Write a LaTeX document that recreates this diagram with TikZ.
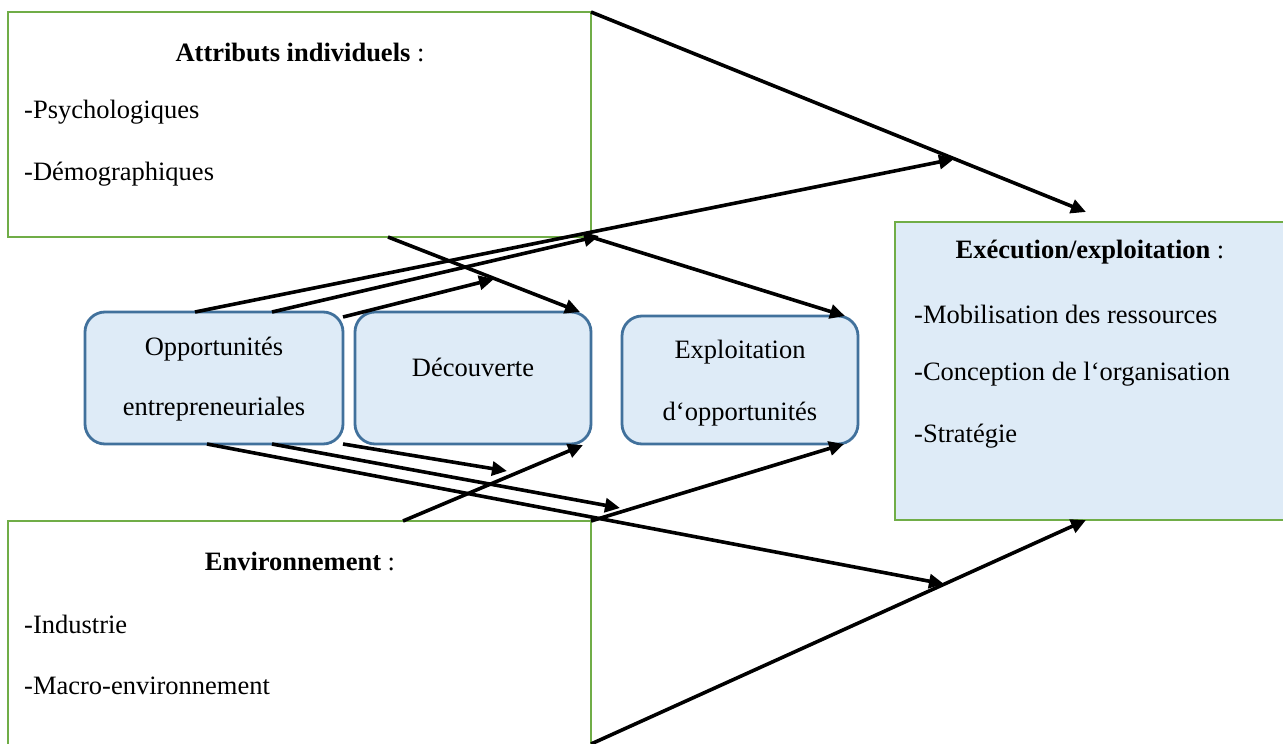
\documentclass[tikz,border=0pt]{standalone}
\usepackage{fontspec}
\setmainfont{Liberation Serif}
\usetikzlibrary{arrows.meta}
\definecolor{boxgreen}{HTML}{70AD47}
\definecolor{boxblue}{HTML}{41719C}
\definecolor{boxfill}{HTML}{DEEBF7}
\begin{document}
\begin{tikzpicture}[x=1pt,y=-1pt,
  font=\fontsize{26.5}{30}\selectfont,
  greenbox/.style={draw=boxgreen, line width=2.8pt, inner sep=0pt, outer sep=0pt},
  roundbox/.style={draw=boxblue, fill=boxfill, line width=2.8pt, rounded corners=20pt, inner sep=0pt, outer sep=0pt},
  conn/.style={line width=3.6pt, -{Triangle[length=15pt,width=14pt]}},
  lbl/.style={inner sep=0pt, anchor=west},
  ttl/.style={inner sep=0pt}]
\useasboundingbox (0,0) rectangle (1283,744);
\fill[white] (0,0) rectangle (1283,744);

% boxes
\node[greenbox, minimum width=583pt, minimum height=225pt] (attr) at (299.5,124.5) {};
\node[greenbox, minimum width=583pt, minimum height=225pt] (env) at (299.5,633.5) {};
\node[greenbox, fill=boxfill, minimum width=395pt, minimum height=298pt] (exec) at (1092.5,371) {};
\node[roundbox, minimum width=258pt, minimum height=132pt] (opp) at (214,378) {};
\node[roundbox, minimum width=236pt, minimum height=132pt] (dec) at (473,378) {};
\node[roundbox, minimum width=236pt, minimum height=128pt] (expl) at (740,380) {};

% texts
\node[ttl] (attrT) at (300,52) {\textbf{Attributs individuels} :};
\node[lbl] (attr1) at (24,112) {-Psychologiques};
\node[lbl] (attr2) at (24,174) {-Démographiques};

\node[ttl] (envT) at (300,561) {\textbf{Environnement} :};
\node[lbl] (env1) at (24,624) {-Industrie};
\node[lbl] (env2) at (24,686) {-Macro-environnement};

\node[ttl] (execT) at (1090,252) {\textbf{Exécution/exploitation} :};
\node[lbl] (exec1) at (914,314) {-Mobilisation des ressources};
\node[lbl] (exec2) at (914,374) {-Conception de l‘organisation};
\node[lbl] (exec3) at (914,436) {-Stratégie};

\node[ttl] (oppA) at (214,349) {Opportunités};
\node[ttl] (oppB) at (214,409) {entrepreneuriales};
\node[ttl] (decT) at (473,367) {Découverte};
\node[ttl] (explA) at (740,352) {Exploitation};
\node[ttl] (explB) at (740,414) {d‘opportunités};

% connection points
\coordinate (o1) at (195,312);
\coordinate (o2) at (272,312);
\coordinate (o3) at (343,317);
\coordinate (b1) at (207,444);
\coordinate (b2) at (272,444);
\coordinate (b3) at (343,444);
\coordinate (as) at (388,237);
\coordinate (et) at (403,521);
\coordinate (eb) at (591,744);
\coordinate (t1) at (1086,212);
\coordinate (t2) at (954,159);
\coordinate (t3) at (599,236);
\coordinate (t4) at (494,279);
\coordinate (t5) at (580,312);
\coordinate (t6) at (507,471);
\coordinate (t7) at (583,445);
\coordinate (t8) at (620,508);
\coordinate (t9) at (944,584);
\coordinate (t10) at (844,444);
\coordinate (t11) at (845,316);
\coordinate (t12) at (1086,520);

% connectors
\draw[conn] (attr.north east) -- (t1);
\draw[conn] (o1) -- (t2);
\draw[conn] (o2) -- (t3);
\draw[conn] (o3) -- (t4);
\draw[conn] (as) -- (t5);
\draw[conn] (attr.south east) -- (t11);

\draw[conn] (b3) -- (t6);
\draw[conn] (et) -- (t7);
\draw[conn] (b2) -- (t8);
\draw[conn] (b1) -- (t9);
\draw[conn] (env.north east) -- (t10);
\draw[conn] (eb) -- (t12);
\end{tikzpicture}
\end{document}
